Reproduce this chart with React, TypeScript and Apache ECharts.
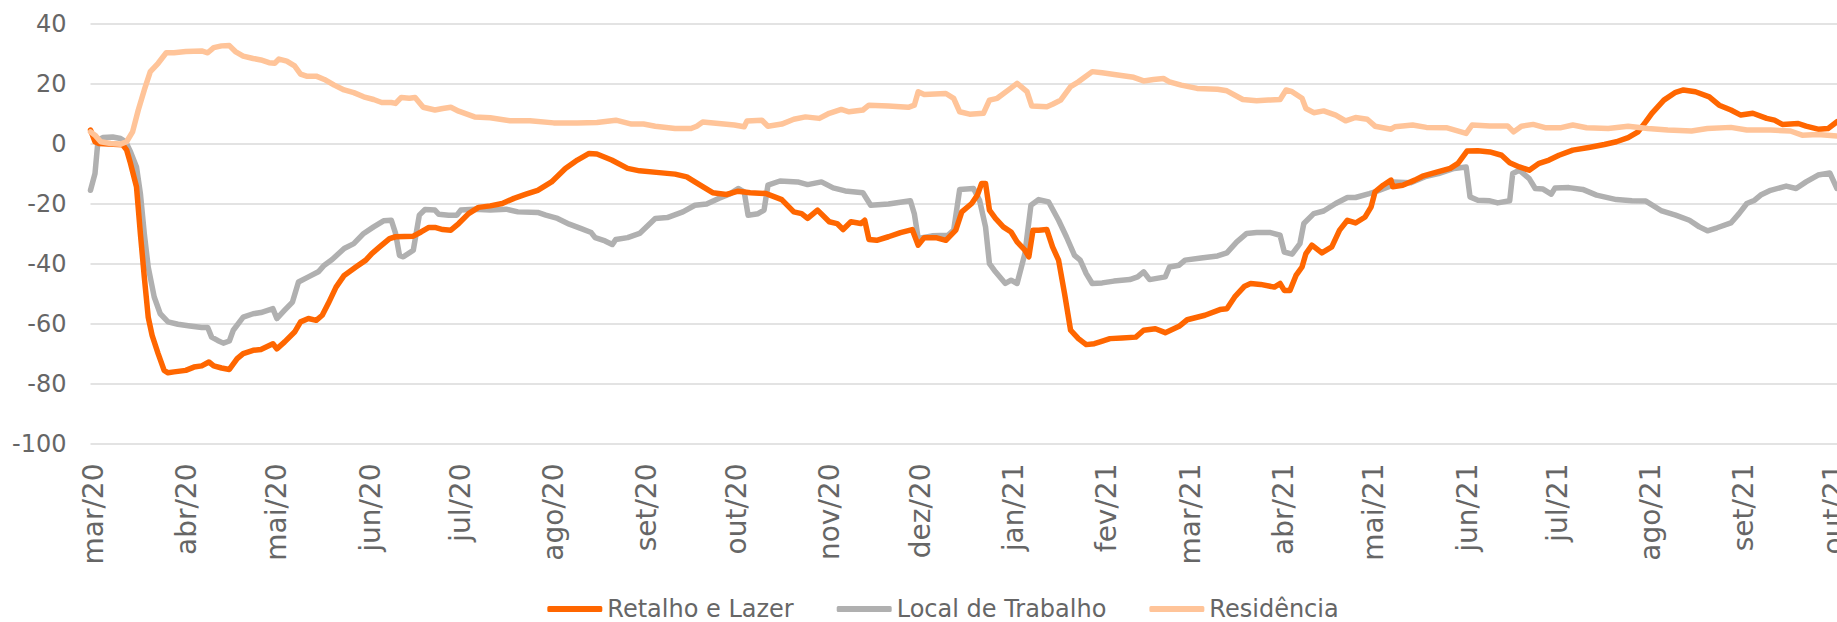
import React, { useEffect, useRef } from "react";
import * as echarts from "echarts";

const DAY = 86400000;
const BASE = new Date(2020, 2, 1).getTime(); // day 0 = 1 Mar 2020

const monthLabels = [
  "mar/20", "abr/20", "mai/20", "jun/20", "jul/20", "ago/20", "set/20", "out/20", "nov/20", "dez/20",
  "jan/21", "fev/21", "mar/21", "abr/21", "mai/21", "jun/21", "jul/21", "ago/21", "set/21", "out/21",
];

const seriesNames = ["Retalho e Lazer", "Local de Trabalho", "Residência"];

// [days since 1 Mar 2020, value]
const retalho: [number, number][] = [
  [-1, 4.6], [0.5, 0.7], [1.8, 0.1], [9.7, -0.3], [11, -2], [12.3, -6.5], [14.3, -14.3], [15.6, -30],
  [16.9, -44.4], [18.2, -57.8], [19.5, -63.9], [21.5, -70], [23.5, -75.6], [24.8, -76.4], [26.8, -76.1],
  [30.7, -75.6], [33.4, -74.5], [36, -74.1], [38.4, -72.8], [40, -74.1], [42.6, -74.8], [45.2, -75.3],
  [47.8, -71.7], [49.8, -70], [53.1, -68.9], [55.7, -68.6], [59.7, -66.7], [61, -68.4], [63.6, -66.1],
  [66.9, -62.8], [68.9, -59.4], [71.5, -58.3], [74.1, -58.9], [76.1, -57.2], [78.1, -53.3], [80.7, -47.8],
  [83.4, -43.9], [87.3, -41.1], [90.6, -38.8], [92.6, -36.6], [95.2, -34.4], [98.5, -31.6], [100.5, -31],
  [106.4, -30.8], [109, -29.4], [111.6, -27.9], [113.6, -27.9], [116.2, -28.6], [118.9, -28.8], [121.5, -26.6],
  [124.8, -23.3], [128.1, -21.2], [132, -20.7], [136, -19.9], [139.9, -18.2], [143.9, -16.8], [147.8, -15.5],
  [152.4, -12.7], [157, -8.2], [161, -5.4], [164.9, -3.2], [167.5, -3.4], [172.4, -5.4], [177.7, -8.2],
  [181.7, -9], [188.2, -9.6], [193.5, -10.1], [197.4, -11], [200.1, -12.7], [202.7, -14.3], [206, -16.3],
  [210.6, -16.9], [214.5, -15.8], [218.5, -16.3], [223.8, -16.6], [229, -18.6], [233, -22.7], [235.6, -23.3],
  [237.6, -24.9], [240.9, -22.1], [244.8, -26], [247.4, -26.6], [249.4, -28.6], [252, -26], [255.3, -26.6],
  [256.6, -25.5], [258, -31.9], [260.6, -32.2], [264.5, -31], [268.5, -29.6], [272.4, -28.6], [274.4, -33.8],
  [276.4, -31.3], [280.3, -31.3], [283.6, -32.2], [286.9, -28.8], [288.9, -22.7], [292.2, -19.9], [294.1, -17.1],
  [295.5, -13.2], [296.8, -13.2], [298.1, -22.1], [300.1, -24.9], [302.7, -27.7], [305.3, -29.4], [307.3, -32.7],
  [309.9, -35.5], [311.2, -37.7], [312.6, -28.8], [314.5, -28.8], [317.2, -28.6], [319.1, -34.4], [321.1, -38.8],
  [323.1, -50], [325.1, -62.2], [327.7, -65], [330.3, -67], [333, -66.7], [334.9, -66.1], [338.2, -65],
  [342.2, -64.8], [346.8, -64.5], [349.4, -62.2], [353.3, -61.7], [356.6, -63], [361.2, -60.9], [363.9, -58.7],
  [369.8, -57.2], [374.8, -55.3], [377.1, -55], [379.7, -51.1], [383, -47.5], [385, -46.6], [388.3, -46.9],
  [392.9, -47.8], [394.8, -46.6], [396.2, -48.9], [398.1, -48.9], [400.1, -43.9], [402.1, -41.1], [403.4, -36.6],
  [405.4, -33.8], [408.7, -36.4], [412, -34.4], [414.6, -28.8], [417.2, -25.5], [419.9, -26.4], [423.1, -24.4],
  [425.1, -21], [426.4, -16], [429.1, -13.8], [431.7, -12.1], [432.3, -14.3], [435.6, -13.8], [439.6, -12.1],
  [442.2, -10.8], [447.5, -9.3], [451.4, -8.2], [454, -6.5], [457, -2.4], [460.6, -2.3], [464.6, -2.7],
  [468.5, -3.8], [471.2, -6.3], [474.4, -7.7], [477.7, -8.8], [481, -6.5], [484.3, -5.4], [487.6, -3.8],
  [492.2, -2.1], [497.5, -1.2], [502.7, -0.2], [506.7, 0.7], [510.6, 2.1], [513.9, 4], [516.5, 7.4],
  [518.5, 10.2], [522.5, 14.6], [526.4, 17.2], [529, 18], [533, 17.4], [537.6, 15.7], [540.9, 12.9],
  [544.8, 11.3], [548.1, 9.6], [552.1, 10.2], [556.7, 8.5], [559.3, 7.9], [561.9, 6.5], [567.2, 6.8],
  [569.8, 5.9], [573.8, 4.9], [577.1, 5.1], [580.1, 7.4],
];

const trabalho: [number, number][] = [
  [-1, -15.5], [0.5, -9.9], [1.5, 1.2], [3.1, 2.1], [6.4, 2.3], [9, 1.8], [10.7, 0.7], [12.3, -2.6],
  [14.3, -7.7], [15.6, -16.6], [16.9, -30], [18.2, -41.1], [20.2, -51.1], [22.2, -56.7], [24.8, -59.4],
  [28.1, -60.2], [32.1, -60.8], [36, -61.3], [38, -61.3], [39.3, -64.5], [41.3, -65.6], [43.2, -66.5],
  [45.2, -65.8], [46.5, -62.2], [49.8, -57.8], [53.1, -56.7], [55.7, -56.3], [59.7, -55], [61, -58.3],
  [63.6, -55.5], [66.2, -52.8], [68.2, -46.1], [71.5, -44.4], [74.8, -42.7], [76.8, -40.5], [79.4, -38.6],
  [83.4, -34.9], [86.6, -33.3], [89.9, -29.9], [93.2, -27.7], [96.5, -25.7], [99.1, -25.5], [100.5, -29.9],
  [101.8, -37.2], [103.1, -37.7], [106.4, -35.5], [108.4, -23.8], [110.3, -21.9], [113.6, -22.1],
  [114.9, -23.5], [118.2, -23.8], [120.9, -23.8], [122.2, -22.1], [126.8, -21.8], [132, -22.1], [137.3, -21.8],
  [141.2, -22.7], [147.8, -22.9], [150.5, -23.8], [154.4, -24.9], [158.3, -26.8], [162.3, -28.3],
  [165.6, -29.6], [166.9, -31.3], [170.2, -32.4], [172.6, -33.6], [173.8, -31.9], [177.7, -31.3],
  [181.7, -29.9], [186.9, -24.9], [190.9, -24.6], [196.1, -22.7], [200.1, -20.5], [204, -20.1], [208, -18.2],
  [211.9, -16.6], [214.5, -14.9], [216.5, -16], [217.8, -23.8], [221.1, -23.3], [223.1, -22.1], [224.4, -13.8],
  [228.4, -12.4], [234.3, -12.7], [237.6, -13.6], [242.2, -12.7], [246.1, -14.7], [250.1, -15.7], [256, -16.3],
  [258.6, -20.5], [264.5, -20.1], [271.8, -19], [273.1, -23.3], [274.4, -31.6], [279, -30.7], [284.3, -30.5],
  [286.2, -28.8], [288.2, -15.2], [292.8, -14.9], [294.8, -18.8], [296.8, -27.7], [298.1, -40], [300.1, -42.7],
  [303.4, -46.6], [305.3, -45.5], [307.3, -46.6], [309.9, -36.6], [311.9, -20.5], [314.5, -18.6],
  [317.8, -19.4], [321.1, -25.5], [323.7, -31], [326.4, -37.2], [328.3, -38.8], [330.3, -43.3], [332.3, -46.6],
  [335.6, -46.4], [339.5, -45.8], [344.8, -45.3], [347.4, -44.4], [349.4, -42.7], [351.4, -45.3],
  [356.6, -44.4], [358, -41.1], [361.2, -40.5], [363.2, -38.8], [368.5, -38.1], [374, -37.4], [377.1, -36.4],
  [380.4, -32.7], [383.7, -29.9], [387, -29.6], [391.6, -29.6], [394.8, -30.5], [396.2, -36.1], [398.8, -36.8],
  [401.4, -33.3], [402.7, -26.6], [406, -23.3], [409.3, -22.4], [413.3, -19.9], [417.2, -17.9], [419.9, -17.9],
  [424.5, -16.6], [426.4, -16], [431, -14.3], [432.3, -12.7], [438.3, -13], [443.5, -10.8], [447.5, -9.9],
  [452.7, -8.2], [456.7, -7.7], [458, -17.7], [460.6, -18.8], [464.6, -19], [467.2, -19.7], [471.2, -19],
  [472.2, -9.9], [474.4, -8.8], [477.7, -11.6], [479.7, -14.9], [482.3, -15.1], [485, -16.8], [486.3, -14.7],
  [490.9, -14.6], [495.5, -15.2], [500.1, -17.1], [506.7, -18.6], [511.9, -19], [516.5, -19.1], [521.8, -22.4],
  [526.4, -23.8], [531, -25.5], [534.3, -27.7], [537, -29], [540.2, -28], [544.8, -26.4], [547.5, -23.3],
  [550.1, -19.9], [552.7, -18.8], [554.7, -17.1], [558, -15.5], [563.2, -14.1], [566.5, -14.9], [569.8, -12.7],
  [573.8, -10.4], [577.7, -9.7], [580.1, -14.9],
];

const residencia: [number, number][] = [
  [-1, 4], [0.5, 2.9], [2.4, 0.7], [5.7, 0.1], [9, -0.1], [11, 0.7], [13, 4], [14.9, 11.3], [16.9, 18],
  [18.9, 24.1], [21.5, 26.9], [24.2, 30.4], [26.8, 30.4], [30.7, 30.8], [36, 31], [38, 30.4], [40, 32.1],
  [42.6, 32.7], [45.2, 32.8], [47.2, 30.8], [49.8, 29.3], [53.1, 28.5], [55.7, 28], [58.4, 27.1], [60.3, 26.9],
  [61.7, 28.3], [64.3, 27.6], [66.9, 26], [68.9, 23.3], [70.9, 22.6], [74.1, 22.6], [76.8, 21.5], [80.1, 19.6],
  [83.4, 18], [86.6, 17.1], [89.9, 15.7], [93.2, 14.8], [95.9, 13.8], [99.1, 13.8], [100.5, 13.5], [102.4, 15.5],
  [105.1, 15.2], [107, 15.5], [109.7, 12.2], [113.6, 11.3], [116.2, 11.8], [118.9, 12.2], [121.5, 10.9],
  [126.8, 9], [132, 8.7], [138.6, 7.7], [145.2, 7.7], [153.1, 7], [161, 7], [167.5, 7.1], [173.8, 7.9],
  [179, 6.6], [183, 6.6], [186.9, 5.9], [193.5, 5.1], [198.8, 5.1], [200.7, 5.9], [202.7, 7.3], [208, 6.8],
  [213.2, 6.3], [216.5, 5.7], [217.4, 7.6], [222.4, 7.9], [224.4, 5.9], [229, 6.6], [233, 8.2], [236.9, 9],
  [241.5, 8.5], [244.8, 10.2], [248.8, 11.5], [251.4, 10.7], [256, 11.3], [258, 12.9], [264.5, 12.6],
  [271.1, 12.2], [273.1, 12.9], [274.4, 17.4], [276.4, 16.5], [283.6, 16.8], [286.2, 15.2], [288.2, 10.7],
  [291.5, 9.9], [296.1, 10.2], [298.1, 14.6], [300.7, 15.2], [304, 17.7], [307.3, 20.2], [310.6, 17.4],
  [312.2, 12.6], [317.2, 12.4], [319.1, 13.2], [321.8, 14.6], [325.1, 19.1], [327.7, 20.7], [332.3, 24.1],
  [335.6, 23.7], [340.8, 23], [346.1, 22.2], [349.4, 21], [352.7, 21.5], [356, 21.8], [358, 20.7],
  [361.9, 19.6], [367.2, 18.5], [374, 18.2], [377.1, 17.7], [382.4, 14.8], [387, 14.4], [390.9, 14.6],
  [394.8, 14.8], [396.8, 18], [398.8, 17.4], [402.1, 15.2], [403.4, 11.8], [406, 10.4], [409.3, 11],
  [413.3, 9.6], [416.6, 7.7], [419.9, 8.8], [423.8, 8.2], [426.4, 5.9], [431.7, 4.9], [433, 5.7], [438.9, 6.3],
  [443.5, 5.5], [450.1, 5.4], [456.7, 3.5], [458.7, 6.3], [464.6, 6], [470.5, 6], [472.5, 4], [475.1, 5.9],
  [479, 6.5], [483, 5.4], [488.3, 5.4], [492.2, 6.3], [496.8, 5.4], [504, 5.1], [510.6, 5.9], [517.2, 5.1],
  [523.8, 4.6], [531.7, 4.3], [537, 5.1], [544.8, 5.5], [550.1, 4.6], [558, 4.6], [564.6, 4.3], [568.5, 2.9],
  [573.8, 3.1], [580.1, 2.6],
];

const AXIS_MIN_DAY = -1;
const AXIS_MAX_DAY = 581;

// month starts, as days since 1 Mar 2020
const monthTicks = monthLabels.map((_, i) =>
  Math.round((new Date(2020, 2 + i, 1).getTime() - BASE) / DAY)
);

const FONT = "DejaVu Sans";
const TEXT_COLOR = "#666666";

export default function App() {
  const ref = useRef<HTMLDivElement>(null);

  useEffect(() => {
    if (!ref.current) return;
    const chart = echarts.init(ref.current, undefined, { renderer: "svg" });
    const lineCommon = {
      type: "line" as const,
      showSymbol: false,
      symbol: "none",
      smooth: false,
      lineStyle: { width: 5.5, cap: "round", join: "round" },
    };
    chart.setOption({
      animation: false,
      textStyle: { fontFamily: FONT },
      grid: {
        left: 90.5,
        top: 24,
        width: 1749.2,
        height: 419.5,
        outerBoundsMode: "none",
      },
      legend: {
        data: seriesNames,
        left: "center",
        top: 597,
        icon: "roundRect",
        itemWidth: 55,
        itemHeight: 6,
        itemGap: 43,
        padding: 0,
        textStyle: { fontSize: 24, color: TEXT_COLOR, fontFamily: FONT },
      },
      xAxis: {
        type: "value",
        min: AXIS_MIN_DAY,
        max: AXIS_MAX_DAY,
        axisLine: { show: false },
        axisTick: { show: false },
        splitLine: { show: false },
        axisLabel: {
          customValues: monthTicks,
          rotate: 90,
          margin: 20,
          fontSize: 28,
          color: TEXT_COLOR,
          fontFamily: FONT,
          hideOverlap: false,
          showMinLabel: true,
          showMaxLabel: true,
          formatter: (v: number) => {
            const i = monthTicks.indexOf(Math.round(v));
            return i >= 0 ? monthLabels[i] : "";
          },
        },
      },
      yAxis: {
        type: "value",
        min: -100,
        max: 40,
        interval: 20,
        axisLine: { show: false },
        axisTick: { show: false },
        axisLabel: { fontSize: 24, color: TEXT_COLOR, margin: 24, fontFamily: FONT },
        splitLine: { lineStyle: { color: "#e3e3e3", width: 2 } },
      },
      series: [
        { ...lineCommon, name: seriesNames[1], data: trabalho, color: "#b0b0b0", z: 2 },
        { ...lineCommon, name: seriesNames[0], data: retalho, color: "#ff6600", z: 3 },
        { ...lineCommon, name: seriesNames[2], data: residencia, color: "#ffc499", z: 4 },
      ],
    });
    return () => chart.dispose();
  }, []);

  return (
    <div
      style={{
        position: "fixed",
        left: 0,
        top: 0,
        width: 1837,
        height: 622,
        overflow: "hidden",
        background: "#ffffff",
      }}
    >
      <div ref={ref} style={{ width: 1886, height: 640 }} />
    </div>
  );
}
